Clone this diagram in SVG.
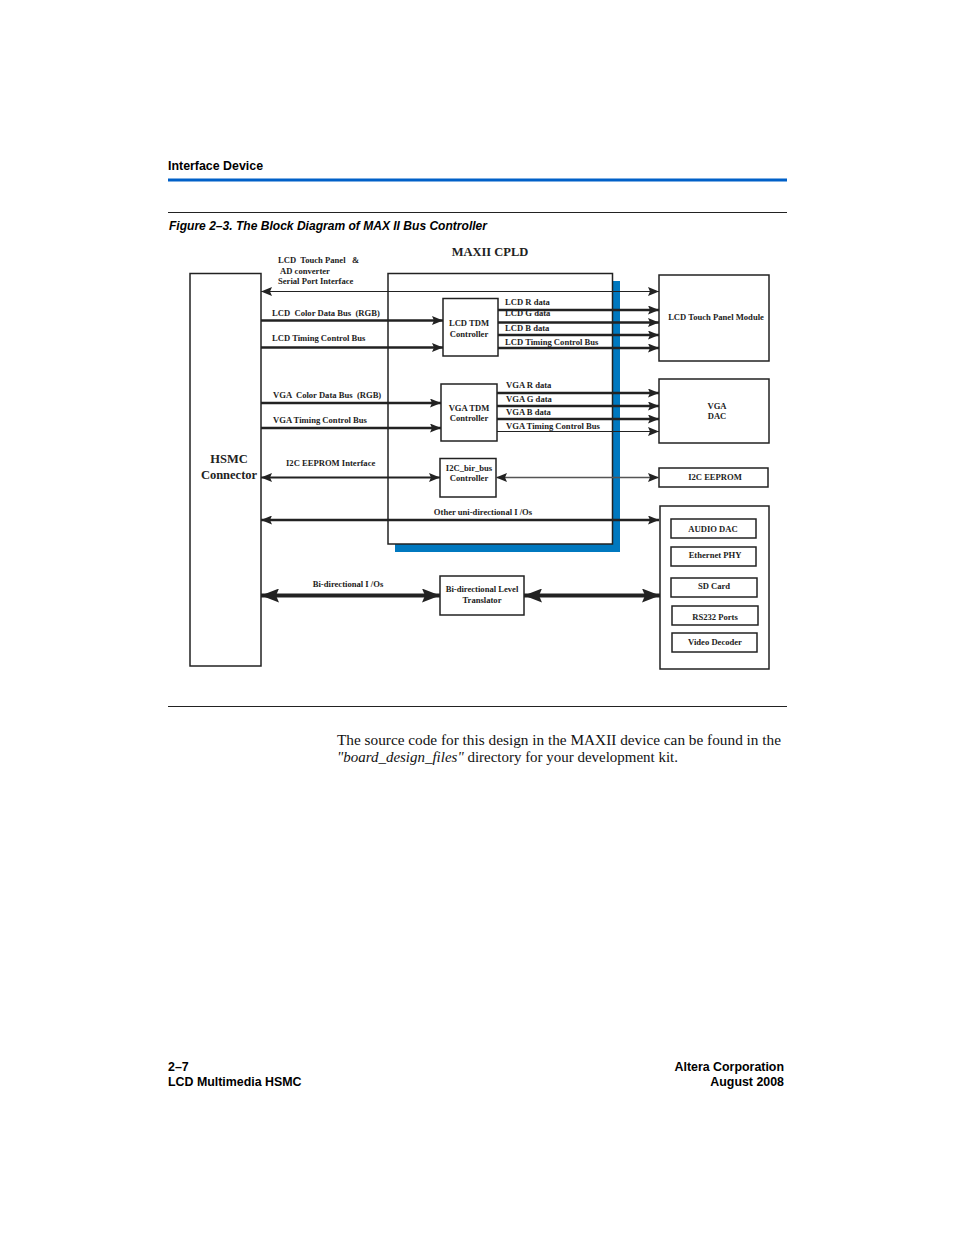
<svg xmlns="http://www.w3.org/2000/svg" width="954" height="1235" viewBox="0 0 954 1235">
<style>
.hdr{font-family:"Liberation Sans",Arial,sans-serif;font-weight:bold;font-size:12.4px;fill:#000}
.cap{font-family:"Liberation Sans",Arial,sans-serif;font-weight:bold;font-style:italic;font-size:13.5px;fill:#000}
.lbl{font-family:"Liberation Serif","Times New Roman",serif;font-weight:bold;font-size:8.6px;fill:#222}
.big{font-family:"Liberation Serif","Times New Roman",serif;font-weight:bold;font-size:12.5px;fill:#222}
.body{font-family:"Liberation Serif","Times New Roman",serif;font-size:14.5px;fill:#111}
.box{fill:#fff;stroke:#222;stroke-width:1.5}
.thin{fill:none;stroke:#222;stroke-width:1}
.thick{fill:none;stroke:#222;stroke-width:2.5}
.fat{fill:none;stroke:#222;stroke-width:4}
</style>
<defs>
<marker id="ah" markerUnits="userSpaceOnUse" markerWidth="11" markerHeight="9" refX="11" refY="4.5" orient="auto-start-reverse">
<path d="M0,0 L11,4.5 L0,9 L2,4.5 z" fill="#222"/>
</marker>
<marker id="ahb" markerUnits="userSpaceOnUse" markerWidth="18" markerHeight="14" refX="18" refY="7" orient="auto-start-reverse">
<path d="M0,0 L18,7 L0,14 L3,7 z" fill="#222"/>
</marker>
</defs>
<rect width="954" height="1235" fill="#fff"/>

<g id="header">
<text class="hdr" x="168" y="170">Interface Device</text>
<rect x="168" y="178.5" width="619" height="3" fill="#0060c8"/>
<line x1="168" y1="212.5" x2="787" y2="212.5" stroke="#222" stroke-width="1"/>
<text class="cap" x="169" y="230" textLength="318" lengthAdjust="spacingAndGlyphs">Figure 2–3. The Block Diagram of MAX II Bus Controller</text>
</g>

<g id="cpld">
<rect x="395" y="281" width="225" height="271" fill="#0078bf"/>
<rect class="box" x="388" y="273.5" width="224.5" height="270.5" stroke-width="1"/>
<text class="big" x="490" y="256" text-anchor="middle">MAXII CPLD</text>
</g>

<g id="hsmc">
<rect class="box" x="190" y="273.5" width="71" height="392.5"/>
<text class="big" x="229" y="463" text-anchor="middle">HSMC</text>
<text class="big" x="229" y="479" text-anchor="middle">Connector</text>
</g>

<g id="lcd-tdm">
<rect class="box" x="443" y="298.5" width="55" height="57.5"/>
<text class="lbl" x="469" y="326" text-anchor="middle">LCD TDM</text>
<text class="lbl" x="469" y="337" text-anchor="middle">Controller</text>
</g>

<g id="vga-tdm">
<rect class="box" x="441" y="384" width="56" height="57"/>
<text class="lbl" x="469" y="411" text-anchor="middle">VGA TDM</text>
<text class="lbl" x="469" y="421" text-anchor="middle">Controller</text>
</g>

<g id="i2c-ctrl">
<rect class="box" x="440" y="458.5" width="56" height="38.5"/>
<text class="lbl" x="469" y="471" text-anchor="middle">I2C_bir_bus</text>
<text class="lbl" x="469" y="481" text-anchor="middle">Controller</text>
</g>

<g id="level-translator">
<rect class="box" x="440" y="576" width="84" height="39"/>
<text class="lbl" x="482" y="592" text-anchor="middle">Bi-directional Level</text>
<text class="lbl" x="482" y="603" text-anchor="middle">Translator</text>
</g>

<g id="lcd-module">
<rect class="box" x="659" y="275" width="110" height="86"/>
<text class="lbl" x="716" y="320" text-anchor="middle">LCD Touch Panel Module</text>
</g>

<g id="vga-dac">
<rect class="box" x="659" y="379" width="110" height="64"/>
<text class="lbl" x="717" y="409" text-anchor="middle">VGA</text>
<text class="lbl" x="717" y="419" text-anchor="middle">DAC</text>
</g>

<g id="i2c-eeprom">
<rect class="box" x="659" y="468" width="109" height="19"/>
<text class="lbl" x="715" y="480" text-anchor="middle">I2C EEPROM</text>
</g>

<g id="peripherals">
<rect class="box" x="660" y="506" width="109" height="163"/>
<rect class="box" x="671" y="519" width="85" height="19"/>
<text class="lbl" x="713" y="532" text-anchor="middle">AUDIO DAC</text>
<rect class="box" x="671" y="547" width="85" height="19"/>
<text class="lbl" x="715" y="558" text-anchor="middle">Ethernet PHY</text>
<rect class="box" x="671" y="578" width="86" height="19"/>
<text class="lbl" x="714" y="589" text-anchor="middle">SD Card</text>
<rect class="box" x="672" y="606" width="86" height="19"/>
<text class="lbl" x="715" y="620" text-anchor="middle">RS232 Ports</text>
<rect class="box" x="672" y="633" width="85" height="19"/>
<text class="lbl" x="715" y="645" text-anchor="middle">Video Decoder</text>
</g>

<g id="connectors">
<line class="thin" x1="261" y1="291.5" x2="659" y2="291.5" marker-start="url(#ah)" marker-end="url(#ah)"/>
<line class="thick" x1="261" y1="320.5" x2="443" y2="320.5" marker-end="url(#ah)"/>
<line class="thick" x1="261" y1="347.5" x2="443" y2="347.5" marker-end="url(#ah)"/>
<line class="thick" x1="498" y1="310" x2="659" y2="310" marker-end="url(#ah)"/>
<line class="thick" x1="498" y1="322.5" x2="659" y2="322.5" marker-end="url(#ah)"/>
<line class="thick" x1="498" y1="335" x2="659" y2="335" marker-end="url(#ah)"/>
<line class="thick" x1="498" y1="348" x2="659" y2="348" marker-end="url(#ah)"/>
<line class="thick" x1="261" y1="403" x2="441" y2="403" marker-end="url(#ah)"/>
<line class="thick" x1="261" y1="428" x2="441" y2="428" marker-end="url(#ah)"/>
<line class="thick" x1="497" y1="393" x2="659" y2="393" marker-end="url(#ah)"/>
<line class="thick" x1="497" y1="406" x2="659" y2="406" marker-end="url(#ah)"/>
<line class="thick" x1="497" y1="419" x2="659" y2="419" marker-end="url(#ah)"/>
<line class="thin" x1="497" y1="431.5" x2="659" y2="431.5" marker-end="url(#ah)"/>
<line x1="261" y1="477.5" x2="440" y2="477.5" stroke="#222" stroke-width="1.8" marker-start="url(#ah)" marker-end="url(#ah)"/>
<line x1="496" y1="477.5" x2="659" y2="477.5" stroke="#555" stroke-width="1.5" marker-start="url(#ah)" marker-end="url(#ah)"/>
<line class="thick" x1="261" y1="520" x2="659" y2="520" marker-start="url(#ah)" marker-end="url(#ah)"/>
<line class="fat" x1="261" y1="595.5" x2="440" y2="595.5" marker-start="url(#ahb)" marker-end="url(#ahb)"/>
<line class="fat" x1="524" y1="595.5" x2="660" y2="595.5" marker-start="url(#ahb)" marker-end="url(#ahb)"/>
</g>

<g id="labels">
<text class="lbl" x="278" y="263" xml:space="preserve">LCD  Touch Panel   &amp;</text>
<text class="lbl" x="280" y="274">AD converter</text>
<text class="lbl" x="278" y="284">Serial Port Interface</text>
<text class="lbl" x="272" y="316" xml:space="preserve">LCD  Color Data Bus  (RGB)</text>
<text class="lbl" x="272" y="341">LCD Timing Control Bus</text>
<text class="lbl" x="505" y="305">LCD R data</text>
<text class="lbl" x="505" y="316">LCD G data</text>
<text class="lbl" x="505" y="331">LCD B data</text>
<text class="lbl" x="505" y="345">LCD Timing Control Bus</text>
<text class="lbl" x="273" y="398" xml:space="preserve">VGA  Color Data Bus  (RGB)</text>
<text class="lbl" x="273" y="423">VGA Timing Control Bus</text>
<text class="lbl" x="506" y="388">VGA R data</text>
<text class="lbl" x="506" y="402">VGA G data</text>
<text class="lbl" x="506" y="415">VGA B data</text>
<text class="lbl" x="506" y="429">VGA Timing Control Bus</text>
<text class="lbl" x="286" y="466">I2C EEPROM Interface</text>
<text class="lbl" x="483" y="515" text-anchor="middle">Other uni-directional I /Os</text>
<text class="lbl" x="348" y="587" text-anchor="middle">Bi-directional I /Os</text>
</g>

<g id="footer-text">
<line x1="168" y1="706.5" x2="787" y2="706.5" stroke="#222" stroke-width="1"/>
<text class="body" x="337" y="745" textLength="444" lengthAdjust="spacingAndGlyphs">The source code for this design in the MAXII device can be found in the</text>
<text class="body" x="337" y="762" textLength="341" lengthAdjust="spacingAndGlyphs"><tspan font-style="italic">"board_design_files"</tspan> directory for your development kit.</text>
<text class="hdr" x="168" y="1071">2–7</text>
<text class="hdr" x="168" y="1086">LCD Multimedia HSMC</text>
<text class="hdr" x="784" y="1071" text-anchor="end">Altera Corporation</text>
<text class="hdr" x="784" y="1086" text-anchor="end">August 2008</text>
</g>
</svg>
